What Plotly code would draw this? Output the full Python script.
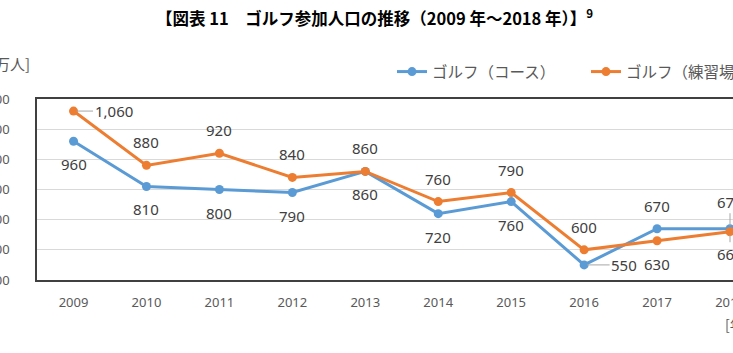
import plotly.graph_objects as go

years = ["2009", "2010", "2011", "2012", "2013", "2014", "2015", "2016", "2017", "2018"]
course = [960, 810, 800, 790, 860, 720, 760, 550, 670, 670]
practice = [1060, 880, 920, 840, 860, 760, 790, 600, 630, 660]
series_names = ["ゴルフ（コース）", "ゴルフ（練習場）"]
y_ticks = [500, 600, 700, 800, 900, 1000, 1100]

BLUE = "#5B9BD5"
ORANGE = "#ED7D31"
TXT = "#595959"
LBL = "#404040"
NUMFONT = "Noto Sans, Open Sans, sans-serif"
JPFONT = "Noto Sans CJK JP, sans-serif"

# label placement styles per point: "a" above, "b" below, "r" right w/ leader, "A"/"B" vertical leader
course_pos = ["b", "b", "b", "b", "b", "b", "b", "r", "a", "A"]
practice_pos = ["r", "a", "a", "a", "a", "a", "a", "a", "b", "B"]

W, H = 733, 353
L, R, T, B = 37, 0, 99, 73
PW, PH = W - L - R, H - T - B

def px_x(px):
    return (px - L) / PW

def px_y(py):
    return (H - B - py) / PH

fig = go.Figure()
fig.add_trace(go.Scatter(x=years, y=course, name=series_names[0], mode="lines+markers",
                         line=dict(color=BLUE, width=3), marker=dict(size=9, color=BLUE),
                         cliponaxis=False, legend="legend", showlegend=True))
fig.add_trace(go.Scatter(x=years, y=practice, name=series_names[1], mode="lines+markers",
                         line=dict(color=ORANGE, width=3), marker=dict(size=9, color=ORANGE),
                         cliponaxis=False, legend="legend2", showlegend=True))

annotations = []
def add_labels(vals, poss):
    for i, (yr, v, p) in enumerate(zip(years, vals, poss)):
        txt = f"{v:,}"
        base = dict(x=i, y=v, xref="x", yref="y", text=txt,
                    font=dict(family=NUMFONT, size=15, color=LBL))
        if p == "a":
            annotations.append(dict(base, showarrow=False, yshift=23))
        elif p == "b":
            annotations.append(dict(base, showarrow=False, yshift=-23))
        elif p == "r":
            annotations.append(dict(base, showarrow=True, arrowhead=0, arrowwidth=1,
                                    arrowcolor="#A6A6A6", ax=40, ay=0, standoff=3))
        elif p == "A":
            annotations.append(dict(base, showarrow=True, arrowhead=0, arrowwidth=1,
                                    arrowcolor="#A6A6A6", ax=0, ay=-27, standoff=3))
        elif p == "B":
            annotations.append(dict(base, showarrow=True, arrowhead=0, arrowwidth=1,
                                    arrowcolor="#A6A6A6", ax=0, ay=22, standoff=3))

add_labels(course, course_pos)
add_labels(practice, practice_pos)

annotations.append(dict(xref="paper", yref="paper", x=px_x(374), y=px_y(18),
                        xanchor="center", yanchor="middle", showarrow=False,
                        text="<b>【図表 11　ゴルフ参加人口の推移（2009 年～2018 年）】<sup>9</sup></b>",
                        font=dict(family=JPFONT, size=16.5, color="#000000")))
annotations.append(dict(xref="paper", yref="paper", x=px_x(32), y=px_y(63),
                        xanchor="right", yanchor="middle", showarrow=False,
                        text="[万人]", font=dict(family=JPFONT, size=15, color=TXT)))
annotations.append(dict(xref="paper", yref="paper", x=px_x(723), y=px_y(324),
                        xanchor="left", yanchor="middle", showarrow=False,
                        text="[年]", font=dict(family=JPFONT, size=14, color=TXT)))

fig.update_layout(
    width=W, height=H, showlegend=True,
    margin=dict(l=L, r=R, t=T, b=B, pad=0, autoexpand=False),
    paper_bgcolor="white", plot_bgcolor="white",
    annotations=annotations,
    legend=dict(x=px_x(392), y=px_y(72), visible=True,
                xanchor="left", yanchor="middle", orientation="h",
                font=dict(family=JPFONT, size=15.5, color=TXT), bgcolor="rgba(0,0,0,0)"),
    legend2=dict(x=px_x(586), y=px_y(72), visible=True,
                 xanchor="left", yanchor="middle", orientation="h",
                 font=dict(family=JPFONT, size=15.5, color=TXT), bgcolor="rgba(0,0,0,0)"),
    xaxis=dict(type="category", range=[-0.5008, 9.041], showgrid=False, automargin=False,
               showline=True, linecolor="#404040", linewidth=1.5, mirror=True,
               ticks="", tickfont=dict(family=NUMFONT, size=13, color=TXT),
               ticklabelstandoff=10, fixedrange=True),
    yaxis=dict(range=[500, 1100], tickvals=y_ticks, tickformat=",", automargin=False,
               showgrid=True, gridcolor="#D9D9D9", gridwidth=1,
               showline=True, linecolor="#404040", linewidth=1.5, zeroline=False,
               ticks="", tickfont=dict(family=NUMFONT, size=13, color=TXT),
               ticklabelstandoff=23, fixedrange=True),
)

fig.write_html("out.html")
